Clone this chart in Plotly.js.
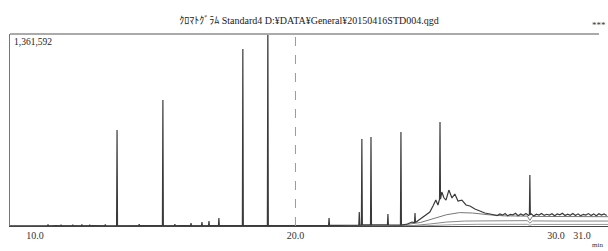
<!DOCTYPE html>
<html><head><meta charset="utf-8">
<script src="https://cdn.plot.ly/plotly-3.0.1.min.js"></script>
<style>html,body{margin:0;padding:0;background:#fff}#c{width:608px;height:251px}</style>
</head><body><div id="c"></div>
<script>
// ---- data ----
const fullScale = 1361592;
const tickVals = [10, 20, 30, 31];
const tickText = ['10.0', '20.0', '30.0', '31.0'];

// baseline points (min, intensity)
const baseT = [9.04, 9.6, 10.2, 10.8, 11.3, 12.2, 12.9, 13.5, 14.3, 15.0, 15.6, 16.2, 16.9, 17.5, 18.4, 19.2, 20.0, 20.6, 21.0, 21.6, 22.0, 22.3, 23.0, 23.3, 23.8, 24.3];
const baseV = [0, 1000, 0, 2000, 1000, 2000, 0, 1000, 2000, 1000, 2000, 1000, 2000, 3000, 2000, 3000, 3000, 4000, 5000, 5000, 6000, 8000, 9000, 8000, 7000, 14000];

// sharp peaks: retention time, apex, base under the apex
const peakT = [10.5, 11.0, 11.45, 11.8, 12.1, 12.7, 13.15, 14.0, 14.91, 15.37, 15.99, 16.41, 16.68, 17.06, 17.98, 18.94, 21.29, 22.45, 22.55, 22.90, 23.55, 24.05, 24.59, 25.55, 29.00];
const peakV = [12000, 10000, 9000, 11000, 9000, 12000, 681000, 12000, 893000, 14000, 21000, 28000, 35000, 57000, 1255000, 1500000, 57000, 100000, 617000, 631000, 85000, 667000, 92000, 738000, 362000];
const peakB = [0, 1000, 1000, 1000, 1000, 1000, 1000, 2000, 2000, 1000, 2000, 1000, 2000, 2000, 3000, 2000, 5000, 7000, 8000, 8000, 9000, 7000, 25000, 190000, 80000];

// unresolved hump and noisy tail
const humpT = [24.47, 24.78, 24.97, 25.16, 25.28, 25.39, 25.47, 25.62, 25.70, 25.78, 25.89, 26.01, 26.12, 26.24, 26.39, 26.55, 26.70, 26.89, 27.08, 27.27, 27.47, 27.66];
const humpV = [28000, 50000, 71000, 99000, 142000, 184000, 149000, 241000, 200000, 184000, 255000, 199000, 227000, 177000, 184000, 149000, 142000, 121000, 106000, 92000, 85000, 78000];
const tailT = [27.75, 27.85, 27.95, 28.05, 28.15, 28.25, 28.35, 28.45, 28.55, 28.65, 28.75, 28.85, 28.95, 29.05, 29.15, 29.25, 29.35, 29.45, 29.55, 29.65, 29.75, 29.85, 29.95, 30.05, 30.15, 30.25, 30.35, 30.45, 30.55, 30.65, 30.75, 30.85, 30.95, 31.05, 31.15, 31.25, 31.35, 31.45, 31.55, 31.65, 31.75, 31.85, 31.95];
const tailV = [74000, 86000, 77000, 89000, 72000, 83000, 79000, 90000, 73000, 85000, 76000, 88000, 74000, 86000, 71000, 84000, 78000, 89000, 75000, 83000, 77000, 87000, 73000, 85000, 79000, 90000, 74000, 84000, 76000, 88000, 74000, 86000, 72000, 83000, 78000, 88000, 75000, 86000, 73000, 87000, 77000, 85000, 75000];

// overlaid chromatograms (lighter traces)
const ov1T = [9.04, 24.0, 24.8, 25.3, 25.8, 26.3, 26.8, 27.4, 28.0, 28.9, 29.0, 29.1, 30.0, 31.0, 32.0];
const ov1V = [0, 4000, 25000, 55000, 80000, 95000, 92000, 80000, 72000, 70000, 40000, 68000, 66000, 66000, 66000];
const ov2T = [9.04, 24.5, 25.2, 25.8, 26.5, 27.5, 28.9, 29.0, 29.1, 30.0, 32.0];
const ov2V = [0, 3000, 15000, 28000, 35000, 38000, 38000, 20000, 36000, 35000, 35000];
const ov3T = [9.04, 25.0, 26.0, 27.0, 28.9, 29.0, 29.1, 32.0];
const ov3V = [0, 2000, 9000, 12000, 12000, 5000, 11000, 11000];

// ---- build the main trace, sorted by time ----
const pts = [];
baseT.forEach((t, i) => pts.push([t, baseV[i]]));
humpT.forEach((t, i) => pts.push([t, humpV[i]]));
tailT.forEach((t, i) => pts.push([t, tailV[i]]));
peakT.forEach((t, i) => {
  pts.push([t - 0.018, peakB[i]]);
  pts.push([t, peakV[i]]);
  pts.push([t + 0.018, peakB[i]]);
});
pts.sort((a, b) => a[0] - b[0]);

const serif = '"Liberation Serif", "DejaVu Serif", "Noto Sans CJK JP", serif';

const traces = [
  {x: ov3T, y: ov3V, mode: 'lines', line: {color: '#999', width: 1}, hoverinfo: 'skip'},
  {x: ov2T, y: ov2V, mode: 'lines', line: {color: '#888', width: 1}, hoverinfo: 'skip'},
  {x: ov1T, y: ov1V, mode: 'lines', line: {color: '#777', width: 1}, hoverinfo: 'skip'},
  {x: pts.map(p => p[0]), y: pts.map(p => p[1]), mode: 'lines',
   line: {color: '#3a3a3a', width: 1.2}, hoverinfo: 'skip'}
];

const layout = {
  width: 608, height: 251,
  margin: {l: 10, r: 0, t: 34, b: 25},
  paper_bgcolor: '#fff', plot_bgcolor: '#fff',
  showlegend: false,
  title: {text: 'ｸﾛﾏﾄｸﾞﾗﾑ Standard4 D:¥DATA¥General¥20150416STD004.qgd',
          font: {family: serif, size: 10, color: '#222'},
          x: 0.5, xref: 'paper', xanchor: 'center',
          y: 1 - 20 / 251, yref: 'container', yanchor: 'middle'},
  xaxis: {range: [9.04, 32.0], tickvals: tickVals, ticktext: tickText,
          showgrid: false, zeroline: false, showline: true, linecolor: '#444', linewidth: 1,
          ticks: '', tickfont: {family: serif, size: 10, color: '#333'}, fixedrange: true},
  yaxis: {range: [0, fullScale], showgrid: false, zeroline: false, showline: true,
          linecolor: '#777', linewidth: 1, showticklabels: false, ticks: '', fixedrange: true},
  shapes: [
    {type: 'line', xref: 'x', yref: 'paper', x0: 20, x1: 20, y0: 0, y1: 1,
     line: {color: '#999', width: 1, dash: 'dash'}},
    {type: 'line', xref: 'paper', yref: 'paper', x0: 0, x1: 0.985, y0: 1, y1: 1,
     line: {color: '#aaa', width: 2}}
  ],
  annotations: [
    {text: '1,361,592', xref: 'paper', yref: 'paper', x: 0.003, y: 0.995,
     xanchor: 'left', yanchor: 'top', showarrow: false,
     font: {family: serif, size: 9.5, color: '#222'}},
    {text: '***', xref: 'paper', yref: 'paper', x: 1, y: 1.01,
     xanchor: 'right', yanchor: 'bottom', showarrow: false,
     font: {family: serif, size: 9, color: '#333'}},
    {text: 'min', xref: 'paper', yref: 'paper', x: 0.995, y: 0, yshift: -19,
     xanchor: 'right', yanchor: 'middle', showarrow: false,
     font: {family: serif, size: 7, color: '#333'}}
  ]
};

Plotly.newPlot('c', traces, layout, {displayModeBar: false, staticPlot: true});
</script>
</body></html>
